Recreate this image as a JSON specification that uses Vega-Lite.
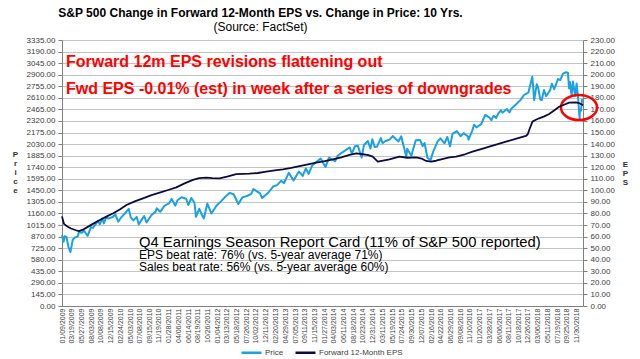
{
  "$schema": "https://vega.github.io/schema/vega-lite/v6.json",
  "width": 521,
  "height": 266,
  "autosize": {"type": "none"},
  "padding": {"left": 62, "top": 40, "right": 57, "bottom": 53},
  "background": "white",
  "config": {"view": {"stroke": null}, "font": "Liberation Sans"},
  "params": [
    {"name": "xt", "expr": "[utc(2009,0,9), utc(2009,2,19), utc(2009,4,27), utc(2009,7,3), utc(2009,9,8), utc(2009,11,15), utc(2010,1,24), utc(2010,4,3), utc(2010,6,8), utc(2010,8,15), utc(2010,10,19), utc(2011,0,28), utc(2011,3,6), utc(2011,5,14), utc(2011,7,19), utc(2011,9,26), utc(2012,0,4), utc(2012,2,13), utc(2012,4,18), utc(2012,6,26), utc(2012,9,2), utc(2012,11,11), utc(2013,1,20), utc(2013,3,29), utc(2013,6,5), utc(2013,8,11), utc(2013,10,15), utc(2014,0,27), utc(2014,3,3), utc(2014,5,11), utc(2014,7,18), utc(2014,9,23), utc(2014,11,31), utc(2015,2,11), utc(2015,4,19), utc(2015,6,24), utc(2015,8,30), utc(2015,11,7), utc(2016,1,16), utc(2016,3,22), utc(2016,5,29), utc(2016,8,8), utc(2016,10,10), utc(2017,0,20), utc(2017,2,28), utc(2017,5,6), utc(2017,7,11), utc(2017,9,18), utc(2017,11,26), utc(2018,2,6), utc(2018,4,11), utc(2018,6,19), utc(2018,8,25), utc(2018,10,30)]"}
  ],
  "title": {
    "text": "S&P 500 Change in Forward 12-Month EPS vs. Change in Price: 10 Yrs.",
    "subtitle": "(Source: FactSet)",
    "anchor": "middle",
    "dx": -62,
    "font": "Liberation Sans",
    "subtitleFont": "Liberation Sans",
    "fontSize": 12,
    "fontWeight": "bold",
    "subtitleFontSize": 12,
    "color": "black",
    "subtitleColor": "black",
    "offset": 2,
    "subtitlePadding": 2
  },
  "datasets": {
    "price": [
      {"date": "2009-01-09", "value": 890}, {"date": "2009-01-20", "value": 805}, {"date": "2009-01-28", "value": 874},
      {"date": "2009-02-09", "value": 870}, {"date": "2009-02-23", "value": 743}, {"date": "2009-03-09", "value": 677},
      {"date": "2009-03-26", "value": 833}, {"date": "2009-04-09", "value": 857}, {"date": "2009-04-30", "value": 873},
      {"date": "2009-05-08", "value": 929}, {"date": "2009-05-29", "value": 919}, {"date": "2009-06-12", "value": 946},
      {"date": "2009-07-08", "value": 880}, {"date": "2009-07-31", "value": 987}, {"date": "2009-08-14", "value": 980},
      {"date": "2009-08-31", "value": 1021}, {"date": "2009-09-18", "value": 1068}, {"date": "2009-10-02", "value": 1025},
      {"date": "2009-10-19", "value": 1097}, {"date": "2009-10-30", "value": 1036}, {"date": "2009-11-16", "value": 1110},
      {"date": "2009-11-30", "value": 1096}, {"date": "2009-12-31", "value": 1115}, {"date": "2010-01-19", "value": 1150},
      {"date": "2010-02-08", "value": 1057}, {"date": "2010-02-26", "value": 1104}, {"date": "2010-03-31", "value": 1169},
      {"date": "2010-04-23", "value": 1217}, {"date": "2010-05-07", "value": 1111}, {"date": "2010-05-25", "value": 1074},
      {"date": "2010-06-18", "value": 1117}, {"date": "2010-07-02", "value": 1023}, {"date": "2010-07-30", "value": 1102},
      {"date": "2010-08-09", "value": 1127}, {"date": "2010-08-26", "value": 1047}, {"date": "2010-09-30", "value": 1141},
      {"date": "2010-10-29", "value": 1183}, {"date": "2010-11-05", "value": 1225}, {"date": "2010-11-30", "value": 1181},
      {"date": "2010-12-31", "value": 1258}, {"date": "2011-01-31", "value": 1286}, {"date": "2011-02-18", "value": 1343},
      {"date": "2011-03-16", "value": 1257}, {"date": "2011-03-31", "value": 1326}, {"date": "2011-04-29", "value": 1364},
      {"date": "2011-05-31", "value": 1345}, {"date": "2011-06-15", "value": 1266}, {"date": "2011-07-07", "value": 1354},
      {"date": "2011-07-29", "value": 1292}, {"date": "2011-08-08", "value": 1119}, {"date": "2011-08-31", "value": 1219},
      {"date": "2011-09-22", "value": 1130}, {"date": "2011-10-03", "value": 1099}, {"date": "2011-10-27", "value": 1285},
      {"date": "2011-11-25", "value": 1159}, {"date": "2011-12-30", "value": 1258}, {"date": "2012-01-31", "value": 1312},
      {"date": "2012-02-29", "value": 1366}, {"date": "2012-04-02", "value": 1419}, {"date": "2012-04-30", "value": 1398},
      {"date": "2012-06-01", "value": 1278}, {"date": "2012-06-29", "value": 1362}, {"date": "2012-07-31", "value": 1379},
      {"date": "2012-08-31", "value": 1407}, {"date": "2012-09-14", "value": 1466}, {"date": "2012-10-31", "value": 1412},
      {"date": "2012-11-15", "value": 1353}, {"date": "2012-12-31", "value": 1426}, {"date": "2013-01-31", "value": 1498},
      {"date": "2013-02-28", "value": 1515}, {"date": "2013-03-28", "value": 1569}, {"date": "2013-04-18", "value": 1541},
      {"date": "2013-05-21", "value": 1669}, {"date": "2013-06-24", "value": 1573}, {"date": "2013-07-31", "value": 1686},
      {"date": "2013-08-27", "value": 1631}, {"date": "2013-09-18", "value": 1725}, {"date": "2013-10-08", "value": 1656},
      {"date": "2013-10-31", "value": 1757}, {"date": "2013-11-29", "value": 1806}, {"date": "2013-12-31", "value": 1848},
      {"date": "2014-02-03", "value": 1742}, {"date": "2014-02-28", "value": 1859}, {"date": "2014-04-11", "value": 1815},
      {"date": "2014-04-30", "value": 1884}, {"date": "2014-05-30", "value": 1924}, {"date": "2014-06-30", "value": 1960},
      {"date": "2014-07-24", "value": 1988}, {"date": "2014-08-07", "value": 1910}, {"date": "2014-08-29", "value": 2003},
      {"date": "2014-09-18", "value": 2011}, {"date": "2014-10-15", "value": 1862}, {"date": "2014-10-31", "value": 2018},
      {"date": "2014-11-28", "value": 2068}, {"date": "2014-12-16", "value": 1973}, {"date": "2014-12-29", "value": 2091},
      {"date": "2015-01-15", "value": 1992}, {"date": "2015-01-30", "value": 1995}, {"date": "2015-02-27", "value": 2105},
      {"date": "2015-03-11", "value": 2040}, {"date": "2015-03-31", "value": 2068}, {"date": "2015-04-30", "value": 2086},
      {"date": "2015-05-21", "value": 2131}, {"date": "2015-06-30", "value": 2063}, {"date": "2015-07-20", "value": 2128},
      {"date": "2015-08-25", "value": 1868}, {"date": "2015-08-31", "value": 1972}, {"date": "2015-09-29", "value": 1884},
      {"date": "2015-10-30", "value": 2079}, {"date": "2015-11-30", "value": 2080}, {"date": "2015-12-18", "value": 2006},
      {"date": "2015-12-31", "value": 2044}, {"date": "2016-01-20", "value": 1859}, {"date": "2016-02-11", "value": 1829},
      {"date": "2016-02-29", "value": 1932}, {"date": "2016-03-31", "value": 2060}, {"date": "2016-04-20", "value": 2102},
      {"date": "2016-05-19", "value": 2040}, {"date": "2016-06-08", "value": 2119}, {"date": "2016-06-27", "value": 2001},
      {"date": "2016-07-15", "value": 2162}, {"date": "2016-08-15", "value": 2191}, {"date": "2016-09-09", "value": 2128},
      {"date": "2016-09-30", "value": 2168}, {"date": "2016-10-31", "value": 2126}, {"date": "2016-11-04", "value": 2085},
      {"date": "2016-11-30", "value": 2199}, {"date": "2016-12-13", "value": 2272}, {"date": "2016-12-30", "value": 2239},
      {"date": "2017-01-31", "value": 2279}, {"date": "2017-03-01", "value": 2396}, {"date": "2017-03-31", "value": 2363},
      {"date": "2017-04-13", "value": 2329}, {"date": "2017-04-28", "value": 2384}, {"date": "2017-05-17", "value": 2357},
      {"date": "2017-05-31", "value": 2412}, {"date": "2017-06-19", "value": 2453}, {"date": "2017-06-30", "value": 2423},
      {"date": "2017-07-31", "value": 2470}, {"date": "2017-08-18", "value": 2426}, {"date": "2017-08-31", "value": 2472},
      {"date": "2017-09-29", "value": 2519}, {"date": "2017-10-31", "value": 2575}, {"date": "2017-11-30", "value": 2648},
      {"date": "2017-12-29", "value": 2674}, {"date": "2018-01-26", "value": 2873}, {"date": "2018-02-08", "value": 2581},
      {"date": "2018-02-26", "value": 2780}, {"date": "2018-03-08", "value": 2739}, {"date": "2018-03-23", "value": 2588},
      {"date": "2018-04-02", "value": 2582}, {"date": "2018-04-18", "value": 2708}, {"date": "2018-05-03", "value": 2630},
      {"date": "2018-05-31", "value": 2705}, {"date": "2018-06-12", "value": 2787}, {"date": "2018-06-29", "value": 2718},
      {"date": "2018-07-25", "value": 2846}, {"date": "2018-08-10", "value": 2833}, {"date": "2018-08-29", "value": 2914},
      {"date": "2018-09-20", "value": 2931}, {"date": "2018-10-03", "value": 2926}, {"date": "2018-10-11", "value": 2728},
      {"date": "2018-10-17", "value": 2809}, {"date": "2018-10-29", "value": 2641}, {"date": "2018-11-07", "value": 2814},
      {"date": "2018-11-23", "value": 2633}, {"date": "2018-12-03", "value": 2790}, {"date": "2018-12-14", "value": 2600},
      {"date": "2018-12-24", "value": 2351}, {"date": "2018-12-26", "value": 2468}, {"date": "2019-01-03", "value": 2448},
      {"date": "2019-01-11", "value": 2596}
    ],
    "eps": [
      {"date": "2009-01-09", "value": 77.5}, {"date": "2009-01-23", "value": 71}, {"date": "2009-02-13", "value": 69},
      {"date": "2009-03-13", "value": 67}, {"date": "2009-04-17", "value": 65.5}, {"date": "2009-05-08", "value": 64.8},
      {"date": "2009-06-05", "value": 66}, {"date": "2009-07-03", "value": 68}, {"date": "2009-08-14", "value": 71},
      {"date": "2009-10-02", "value": 74.4}, {"date": "2009-11-20", "value": 77.5}, {"date": "2010-01-04", "value": 80.2},
      {"date": "2010-02-19", "value": 83.5}, {"date": "2010-04-07", "value": 87.3}, {"date": "2010-06-04", "value": 90.5},
      {"date": "2010-08-01", "value": 93.1}, {"date": "2010-09-30", "value": 95.8}, {"date": "2010-11-26", "value": 98},
      {"date": "2011-01-25", "value": 100.3}, {"date": "2011-03-23", "value": 102.6}, {"date": "2011-05-20", "value": 106},
      {"date": "2011-07-18", "value": 109}, {"date": "2011-08-31", "value": 110.5}, {"date": "2011-10-20", "value": 111},
      {"date": "2011-12-01", "value": 110.6}, {"date": "2012-01-21", "value": 110.4}, {"date": "2012-03-20", "value": 112},
      {"date": "2012-05-17", "value": 114.1}, {"date": "2012-08-18", "value": 114.5}, {"date": "2012-10-15", "value": 115},
      {"date": "2012-12-14", "value": 116.1}, {"date": "2013-02-12", "value": 117.2}, {"date": "2013-04-10", "value": 118.2},
      {"date": "2013-06-07", "value": 119.5}, {"date": "2013-08-05", "value": 121}, {"date": "2013-10-03", "value": 122.5},
      {"date": "2013-11-30", "value": 123.9}, {"date": "2014-01-28", "value": 125.2}, {"date": "2014-03-27", "value": 126.8},
      {"date": "2014-05-25", "value": 128.6}, {"date": "2014-07-22", "value": 130.6}, {"date": "2014-09-07", "value": 132},
      {"date": "2014-10-23", "value": 131.2}, {"date": "2014-12-01", "value": 130.5}, {"date": "2015-01-01", "value": 129.1},
      {"date": "2015-02-05", "value": 124.8}, {"date": "2015-03-05", "value": 125.5}, {"date": "2015-04-28", "value": 126.8},
      {"date": "2015-07-07", "value": 129.1}, {"date": "2015-09-01", "value": 128.2}, {"date": "2015-11-02", "value": 128.5},
      {"date": "2015-12-10", "value": 127.5}, {"date": "2016-01-11", "value": 125.4}, {"date": "2016-02-15", "value": 124.8},
      {"date": "2016-03-21", "value": 125.6}, {"date": "2016-06-22", "value": 128.5}, {"date": "2016-08-08", "value": 129.1},
      {"date": "2016-10-10", "value": 131.2}, {"date": "2016-12-02", "value": 133.4}, {"date": "2017-01-31", "value": 135.6},
      {"date": "2017-03-30", "value": 137.8}, {"date": "2017-05-28", "value": 140}, {"date": "2017-07-25", "value": 142.1},
      {"date": "2017-09-30", "value": 144.5}, {"date": "2017-12-12", "value": 147}, {"date": "2017-12-25", "value": 148.5},
      {"date": "2018-01-04", "value": 152.2}, {"date": "2018-01-27", "value": 159.4}, {"date": "2018-02-20", "value": 161},
      {"date": "2018-03-15", "value": 162.3}, {"date": "2018-04-20", "value": 164}, {"date": "2018-05-24", "value": 166},
      {"date": "2018-06-28", "value": 169}, {"date": "2018-08-02", "value": 172.3}, {"date": "2018-09-06", "value": 174},
      {"date": "2018-10-11", "value": 175.8}, {"date": "2018-11-28", "value": 176.1}, {"date": "2018-12-20", "value": 175.5},
      {"date": "2019-01-02", "value": 174.7}, {"date": "2019-01-17", "value": 173.5}
    ]
  },
  "layer": [
    {
      "layer": [
        {
          "data": {"name": "price"},
          "mark": {"type": "line", "strokeWidth": 2, "strokeJoin": "round"},
          "encoding": {
            "x": {
              "field": "date",
              "type": "temporal",
              "scale": {"type": "utc", "domain": [{"year": 2009, "month": 1, "date": 9, "utc": true}, {"year": 2019, "month": 1, "date": 17, "utc": true}]},
              "axis": {"title": null, "values": {"expr": "xt"}, "format": "%m/%d/%Y", "labelAngle": -90, "labelFontSize": 7, "labelColor": "#404040", "labelPadding": 2, "labelOverlap": false, "labelBound": false, "labelFlush": false, "ticks": false, "grid": false, "domainColor": "#808080"}
            },
            "y": {
              "field": "value",
              "type": "quantitative",
              "scale": {"domain": [0, 3335], "nice": false},
              "axis": {"values": [0, 145, 290, 435, 580, 725, 870, 1015, 1160, 1305, 1450, 1595, 1740, 1885, 2030, 2175, 2320, 2465, 2610, 2755, 2900, 3045, 3190, 3335], "format": ".2f", "labelFontSize": 8, "labelColor": "#404040", "labelOverlap": false, "tickSize": 4, "tickColor": "#808080", "labelPadding": 3, "grid": true, "gridColor": "#c4c4c4", "gridWidth": 1, "domainColor": "#808080", "title": ["P", "r", "i", "c", "e"], "titleAngle": 0, "titleFontSize": 8, "titleFontWeight": "bold", "titleLineHeight": 9, "titleColor": "#333333", "titleAlign": "center", "titleBaseline": "top", "titleX": -47, "titleY": 110}
            },
            "color": {
              "datum": "Price",
              "type": "nominal",
              "scale": {"domain": ["Price", "Forward 12-Month EPS"], "range": ["#1ba1e2", "#0b0b3d"]},
              "legend": {"orient": "none", "legendX": 178, "legendY": 301, "direction": "horizontal", "title": null, "symbolType": "stroke", "symbolSize": 400, "symbolStrokeWidth": 2.5, "labelFontSize": 8, "labelColor": "#404040", "labelOffset": 2, "columnPadding": 6}
            }
          }
        },
        {
          "data": {"values": [{}]},
          "mark": {"type": "text", "align": "left", "baseline": "alphabetic", "fontSize": 16, "fontWeight": "bold", "color": "#ff0000"},
          "encoding": {
            "x": {"datum": {"year": 2009, "month": 2, "date": 6, "utc": true}, "type": "temporal",
              "axis": {"title": null, "values": {"expr": "xt"}, "format": "%m/%d/%Y", "labelAngle": -90, "labelFontSize": 7, "labelColor": "#404040", "labelPadding": 2, "labelOverlap": false, "labelBound": false, "labelFlush": false, "ticks": false, "grid": false, "domainColor": "#808080"}},
            "y": {"datum": 3000, "type": "quantitative",
              "axis": {"values": [0, 145, 290, 435, 580, 725, 870, 1015, 1160, 1305, 1450, 1595, 1740, 1885, 2030, 2175, 2320, 2465, 2610, 2755, 2900, 3045, 3190, 3335], "format": ".2f", "labelFontSize": 8, "labelColor": "#404040", "labelOverlap": false, "tickSize": 4, "tickColor": "#808080", "labelPadding": 3, "grid": true, "gridColor": "#c4c4c4", "gridWidth": 1, "domainColor": "#808080", "title": ["P", "r", "i", "c", "e"], "titleAngle": 0, "titleFontSize": 8, "titleFontWeight": "bold", "titleLineHeight": 9, "titleColor": "#333333", "titleAlign": "center", "titleBaseline": "top", "titleX": -47, "titleY": 110}},
            "text": {"value": "Forward 12m EPS revisions flattening out"}
          }
        },
        {
          "data": {"values": [{}]},
          "mark": {"type": "text", "align": "left", "baseline": "alphabetic", "fontSize": 16, "fontWeight": "bold", "color": "#ff0000"},
          "encoding": {
            "x": {"datum": {"year": 2009, "month": 2, "date": 6, "utc": true}, "type": "temporal",
              "axis": {"title": null, "values": {"expr": "xt"}, "format": "%m/%d/%Y", "labelAngle": -90, "labelFontSize": 7, "labelColor": "#404040", "labelPadding": 2, "labelOverlap": false, "labelBound": false, "labelFlush": false, "ticks": false, "grid": false, "domainColor": "#808080"}},
            "y": {"datum": 2658, "type": "quantitative",
              "axis": {"values": [0, 145, 290, 435, 580, 725, 870, 1015, 1160, 1305, 1450, 1595, 1740, 1885, 2030, 2175, 2320, 2465, 2610, 2755, 2900, 3045, 3190, 3335], "format": ".2f", "labelFontSize": 8, "labelColor": "#404040", "labelOverlap": false, "tickSize": 4, "tickColor": "#808080", "labelPadding": 3, "grid": true, "gridColor": "#c4c4c4", "gridWidth": 1, "domainColor": "#808080", "title": ["P", "r", "i", "c", "e"], "titleAngle": 0, "titleFontSize": 8, "titleFontWeight": "bold", "titleLineHeight": 9, "titleColor": "#333333", "titleAlign": "center", "titleBaseline": "top", "titleX": -47, "titleY": 110}},
            "text": {"value": "Fwd EPS -0.01% (est) in week after a series of downgrades"}
          }
        },
        {
          "data": {"values": [{}]},
          "mark": {"type": "text", "align": "left", "baseline": "alphabetic", "fontSize": 14.8, "color": "#000000"},
          "encoding": {
            "x": {"datum": {"year": 2010, "month": 7, "date": 4, "utc": true}, "type": "temporal",
              "axis": {"title": null, "values": {"expr": "xt"}, "format": "%m/%d/%Y", "labelAngle": -90, "labelFontSize": 7, "labelColor": "#404040", "labelPadding": 2, "labelOverlap": false, "labelBound": false, "labelFlush": false, "ticks": false, "grid": false, "domainColor": "#808080"}},
            "y": {"datum": 743, "type": "quantitative",
              "axis": {"values": [0, 145, 290, 435, 580, 725, 870, 1015, 1160, 1305, 1450, 1595, 1740, 1885, 2030, 2175, 2320, 2465, 2610, 2755, 2900, 3045, 3190, 3335], "format": ".2f", "labelFontSize": 8, "labelColor": "#404040", "labelOverlap": false, "tickSize": 4, "tickColor": "#808080", "labelPadding": 3, "grid": true, "gridColor": "#c4c4c4", "gridWidth": 1, "domainColor": "#808080", "title": ["P", "r", "i", "c", "e"], "titleAngle": 0, "titleFontSize": 8, "titleFontWeight": "bold", "titleLineHeight": 9, "titleColor": "#333333", "titleAlign": "center", "titleBaseline": "top", "titleX": -47, "titleY": 110}},
            "text": {"value": "Q4 Earnings Season Report Card (11% of S&P 500 reported)"}
          }
        },
        {
          "data": {"values": [{}]},
          "mark": {"type": "text", "align": "left", "baseline": "alphabetic", "fontSize": 12, "color": "#000000"},
          "encoding": {
            "x": {"datum": {"year": 2010, "month": 7, "date": 4, "utc": true}, "type": "temporal",
              "axis": {"title": null, "values": {"expr": "xt"}, "format": "%m/%d/%Y", "labelAngle": -90, "labelFontSize": 7, "labelColor": "#404040", "labelPadding": 2, "labelOverlap": false, "labelBound": false, "labelFlush": false, "ticks": false, "grid": false, "domainColor": "#808080"}},
            "y": {"datum": 589, "type": "quantitative",
              "axis": {"values": [0, 145, 290, 435, 580, 725, 870, 1015, 1160, 1305, 1450, 1595, 1740, 1885, 2030, 2175, 2320, 2465, 2610, 2755, 2900, 3045, 3190, 3335], "format": ".2f", "labelFontSize": 8, "labelColor": "#404040", "labelOverlap": false, "tickSize": 4, "tickColor": "#808080", "labelPadding": 3, "grid": true, "gridColor": "#c4c4c4", "gridWidth": 1, "domainColor": "#808080", "title": ["P", "r", "i", "c", "e"], "titleAngle": 0, "titleFontSize": 8, "titleFontWeight": "bold", "titleLineHeight": 9, "titleColor": "#333333", "titleAlign": "center", "titleBaseline": "top", "titleX": -47, "titleY": 110}},
            "text": {"value": "EPS beat rate: 76% (vs. 5-year average 71%)"}
          }
        },
        {
          "data": {"values": [{}]},
          "mark": {"type": "text", "align": "left", "baseline": "alphabetic", "fontSize": 12, "color": "#000000"},
          "encoding": {
            "x": {"datum": {"year": 2010, "month": 7, "date": 4, "utc": true}, "type": "temporal",
              "axis": {"title": null, "values": {"expr": "xt"}, "format": "%m/%d/%Y", "labelAngle": -90, "labelFontSize": 7, "labelColor": "#404040", "labelPadding": 2, "labelOverlap": false, "labelBound": false, "labelFlush": false, "ticks": false, "grid": false, "domainColor": "#808080"}},
            "y": {"datum": 443, "type": "quantitative",
              "axis": {"values": [0, 145, 290, 435, 580, 725, 870, 1015, 1160, 1305, 1450, 1595, 1740, 1885, 2030, 2175, 2320, 2465, 2610, 2755, 2900, 3045, 3190, 3335], "format": ".2f", "labelFontSize": 8, "labelColor": "#404040", "labelOverlap": false, "tickSize": 4, "tickColor": "#808080", "labelPadding": 3, "grid": true, "gridColor": "#c4c4c4", "gridWidth": 1, "domainColor": "#808080", "title": ["P", "r", "i", "c", "e"], "titleAngle": 0, "titleFontSize": 8, "titleFontWeight": "bold", "titleLineHeight": 9, "titleColor": "#333333", "titleAlign": "center", "titleBaseline": "top", "titleX": -47, "titleY": 110}},
            "text": {"value": "Sales beat rate: 56% (vs. 5-year average 60%)"}
          }
        },
        {
          "data": {"values": [{}]},
          "mark": {"type": "point", "shape": "M -1 0 A 1 0.7 0 1 1 1 0 A 1 0.7 0 1 1 -1 0 Z", "size": 1296, "filled": false, "stroke": "#ff0000", "strokeWidth": 2.5, "opacity": 1},
          "encoding": {
            "x": {"datum": {"year": 2018, "month": 12, "date": 20, "utc": true}, "type": "temporal",
              "axis": {"title": null, "values": {"expr": "xt"}, "format": "%m/%d/%Y", "labelAngle": -90, "labelFontSize": 7, "labelColor": "#404040", "labelPadding": 2, "labelOverlap": false, "labelBound": false, "labelFlush": false, "ticks": false, "grid": false, "domainColor": "#808080"}},
            "y": {"datum": 2489, "type": "quantitative",
              "axis": {"values": [0, 145, 290, 435, 580, 725, 870, 1015, 1160, 1305, 1450, 1595, 1740, 1885, 2030, 2175, 2320, 2465, 2610, 2755, 2900, 3045, 3190, 3335], "format": ".2f", "labelFontSize": 8, "labelColor": "#404040", "labelOverlap": false, "tickSize": 4, "tickColor": "#808080", "labelPadding": 3, "grid": true, "gridColor": "#c4c4c4", "gridWidth": 1, "domainColor": "#808080", "title": ["P", "r", "i", "c", "e"], "titleAngle": 0, "titleFontSize": 8, "titleFontWeight": "bold", "titleLineHeight": 9, "titleColor": "#333333", "titleAlign": "center", "titleBaseline": "top", "titleX": -47, "titleY": 110}}
          }
        }
      ]
    },
    {
      "data": {"name": "eps"},
      "mark": {"type": "line", "strokeWidth": 1.8, "strokeJoin": "round"},
      "encoding": {
        "x": {"field": "date", "type": "temporal",
          "axis": {"title": null, "values": {"expr": "xt"}, "format": "%m/%d/%Y", "labelAngle": -90, "labelFontSize": 7, "labelColor": "#404040", "labelPadding": 2, "labelOverlap": false, "labelBound": false, "labelFlush": false, "ticks": false, "grid": false, "domainColor": "#808080"}},
        "y": {
          "field": "value",
          "type": "quantitative",
          "scale": {"domain": [0, 230], "nice": false},
          "axis": {"orient": "right", "values": [0, 10, 20, 30, 40, 50, 60, 70, 80, 90, 100, 110, 120, 130, 140, 150, 160, 170, 180, 190, 200, 210, 220, 230], "format": ".2f", "labelFontSize": 8, "labelColor": "#404040", "labelOverlap": false, "tickSize": 4, "tickColor": "#808080", "labelPadding": 3, "grid": false, "domainColor": "#808080", "title": ["E", "P", "S"], "titleAngle": 0, "titleFontSize": 8, "titleFontWeight": "bold", "titleLineHeight": 9, "titleColor": "#333333", "titleAlign": "center", "titleBaseline": "top", "titleX": 42, "titleY": 120}
        },
        "color": {"datum": "Forward 12-Month EPS", "type": "nominal"}
      }
    }
  ],
  "resolve": {"scale": {"y": "independent"}}
}
